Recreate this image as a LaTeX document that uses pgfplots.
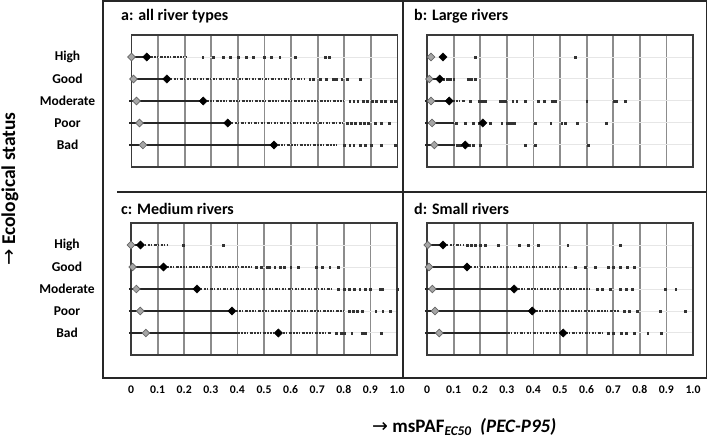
\documentclass[border=0pt]{standalone}
\usepackage{fontspec}
\setmainfont{Carlito}
\newfontfamily\dejavu{DejaVu Sans}
\usepackage{pgfplots}
\pgfplotsset{compat=1.18}
\definecolor{framec}{HTML}{3A3A3A}
\definecolor{gridc}{HTML}{8C8C8C}
\definecolor{rowc}{HTML}{E6E6E6}
\definecolor{dgrey}{HTML}{A6A6A6}
\pgfplotsset{
  panel/.style={
    scale only axis, width=266pt, height=132pt,
    xmin=0, xmax=1, ymin=0, ymax=6, y dir=reverse, clip=false,
    xtick={0,0.1,0.2,0.3,0.4,0.5,0.6,0.7,0.8,0.9,1},
    ytick={1,2,3,4,5},
    xticklabels={}, yticklabels={},
    major tick length=0pt,
    xmajorgrids, ymajorgrids,
    major x grid style={gridc, line width=1.8pt},
    major y grid style={rowc, line width=1pt},
    axis line style={framec, line width=1.6pt},
    xticklabel style={anchor=center, yshift=-35pt, font=\bfseries\fontsize{11.7}{12}\selectfont},
    yticklabel style={anchor=center, xshift=-64pt, font=\bfseries\fontsize{13.5}{14}\selectfont},
  },
  withx/.style={xticklabels={0,0.1,0.2,0.3,0.4,0.5,0.6,0.7,0.8,0.9,1.0}},
  withy/.style={yticklabels={High,Good,Moderate,Poor,Bad}},
  medline/.style={black!85, line width=2pt, unbounded coords=jump, no marks},
  dense/.style={black!80, line width=2pt, unbounded coords=jump, no marks,
     dash pattern=on 3pt off 1pt on 1.5pt off 1.5pt on 2pt off 1pt on 1pt off 2pt},
  dots/.style={only marks, mark=square*, mark size=0.9pt, black!80},
  greyd/.style={only marks, mark=square*, mark size=2.7pt, mark options={rotate=45, fill=dgrey, draw=black!60, line width=0.7pt}},
  blackd/.style={only marks, mark=square*, mark size=2.9pt, mark options={rotate=45, fill=black, draw=black}},
}
\begin{document}
\begin{tikzpicture}
\path[use as bounding box] (0,0) rectangle (708pt,443pt);
% frame of the four panels
\draw[black!85, line width=1.5pt] (103pt,65pt) rectangle (706.5pt,442pt);
\draw[black!85, line width=1.4pt] (403pt,65pt) -- (403pt,442pt);
\draw[black!85, line width=1.4pt] (117pt,251pt) -- (706.5pt,251pt);
% titles
\node[anchor=base west, font=\bfseries\fontsize{16}{18}\selectfont, inner sep=0pt] at (121pt,422pt) {a: all river types};
\node[anchor=base west, font=\bfseries\fontsize{16}{18}\selectfont, inner sep=0pt] at (414pt,422pt) {b: Large rivers};
\node[anchor=base west, font=\bfseries\fontsize{16}{18}\selectfont, inner sep=0pt] at (121pt,228pt) {c: Medium rivers};
\node[anchor=base west, font=\bfseries\fontsize{16}{18}\selectfont, inner sep=0pt] at (414pt,228pt) {d: Small rivers};
% axis titles
\node[rotate=90, anchor=base, font=\bfseries\fontsize{19.5}{21}\selectfont, inner sep=0pt] at (15pt,254pt) {{\dejavu\mdseries →} Ecological status};
\node[anchor=base west, font=\bfseries\fontsize{19}{21}\selectfont, inner sep=0pt] at (372pt,10pt) {{\dejavu\mdseries →} msPAF\textsubscript{\itshape EC50}~ \textit{(PEC-P95)}};

% ---------------- a: all river types
\begin{axis}[panel, withy, at={(131.5pt,276pt)}, anchor=south west]
\addplot[medline] coordinates {(0,1) (0.057,1) (nan,nan) (0,2) (0.133,2) (nan,nan) (-0.008,3) (0.27,3) (nan,nan) (-0.008,4) (0.362,4) (nan,nan) (-0.008,5) (0.536,5)};
\addplot[dense] coordinates {(0.06,1) (0.21,1) (nan,nan) (0.133,2) (0.65,2) (nan,nan) (0.27,3) (0.80,3) (nan,nan) (0.362,4) (0.80,4) (nan,nan) (0.536,5) (0.78,5)};
\addplot[dots] coordinates {
 (0.268,1) (0.306,1) (0.346,1) (0.371,1) (0.40,1) (0.431,1) (0.459,1) (0.50,1) (0.526,1) (0.557,1) (0.614,1) (0.727,1) (0.743,1)
 (0.67,2) (0.683,2) (0.71,2) (0.733,2) (0.758,2) (0.771,2) (0.79,2) (0.81,2) (0.859,2)
 (0.82,3) (0.835,3) (0.85,3) (0.87,3) (0.885,3) (0.905,3) (0.92,3) (0.94,3) (0.955,3) (0.975,3) (0.99,3)
 (0.81,4) (0.825,4) (0.84,4) (0.86,4) (0.875,4) (0.89,4) (0.915,4) (0.94,4) (0.97,4)
 (0.80,5) (0.82,5) (0.835,5) (0.86,5) (0.88,5) (0.90,5) (0.94,5) (0.99,5)};
\addplot[greyd] coordinates {(0,1) (0.0075,2) (0.019,3) (0.03,4) (0.043,5)};
\addplot[blackd] coordinates {(0.057,1) (0.133,2) (0.27,3) (0.362,4) (0.536,5)};
\end{axis}

% ---------------- b: Large rivers
\begin{axis}[panel, at={(427pt,276pt)}, anchor=south west]
\addplot[medline] coordinates {(0,2) (0.0475,2) (nan,nan) (-0.008,3) (0.084,3) (nan,nan) (-0.008,4) (0.10,4) (nan,nan) (-0.008,5) (0.106,5)};
\addplot[dense] coordinates {(0.084,3) (0.144,3)};
\addplot[dots] coordinates {
 (0.181,1) (0.558,1)
 (0.0625,2) (0.075,2) (0.0875,2) (0.10,2) (0.154,2) (0.165,2) (0.181,2)
 (0.1625,3) (0.1975,3) (0.206,3) (0.219,3) (0.275,3) (0.285,3) (0.295,3) (0.3225,3) (0.3375,3) (0.369,3) (0.419,3) (0.44,3) (0.469,3) (0.475,3) (0.481,3) (0.60,3) (0.704,3) (0.7125,3) (0.746,3)
 (0.11,4) (0.144,4) (0.175,4) (0.194,4) (0.2375,4) (0.281,4) (0.30,4) (0.3125,4) (0.325,4) (0.33,4) (0.406,4) (0.465,4) (0.506,4) (0.52,4) (0.5625,4) (0.565,4) (0.675,4)
 (0.115,5) (0.125,5) (0.16,5) (0.175,5) (0.20,5) (0.369,5) (0.406,5) (0.606,5)};
\addplot[greyd] coordinates {(0.015,1) (0.009,2) (0.015,3) (0.019,4) (0.0275,5)};
\addplot[blackd] coordinates {(0.06,1) (0.0475,2) (0.084,3) (0.21,4) (0.144,5)};
\end{axis}

% ---------------- c: Medium rivers
\begin{axis}[panel, withx, withy, at={(131pt,88pt)}, anchor=south west]
\addplot[medline] coordinates {(0,1) (0.036,1) (nan,nan) (0,2) (0.122,2) (nan,nan) (-0.008,3) (0.248,3) (nan,nan) (-0.008,4) (0.38,4) (nan,nan) (-0.008,5) (0.40,5)};
\addplot[dense] coordinates {(0.036,1) (0.14,1) (nan,nan) (0.122,2) (0.46,2) (nan,nan) (0.248,3) (0.76,3) (nan,nan) (0.38,4) (0.80,4) (nan,nan) (0.40,5) (0.75,5)};
\addplot[dots] coordinates {
 (0.195,1) (0.347,1)
 (0.47,2) (0.49,2) (0.51,2) (0.52,2) (0.54,2) (0.56,2) (0.575,2) (0.60,2) (0.63,2) (0.697,2) (0.72,2) (0.747,2) (0.78,2)
 (0.78,3) (0.80,3) (0.82,3) (0.84,3) (0.86,3) (0.88,3) (0.90,3) (0.935,3) (0.945,3) (1.0,3)
 (0.82,4) (0.835,4) (0.85,4) (0.87,4) (0.92,4) (0.946,4) (0.974,4)
 (0.77,5) (0.79,5) (0.80,5) (0.83,5) (0.87,5) (0.88,5) (0.94,5)};
\addplot[greyd] coordinates {(0,1) (0.006,2) (0.02,3) (0.035,4) (0.056,5)};
\addplot[blackd] coordinates {(0.036,1) (0.122,2) (0.248,3) (0.38,4) (0.554,5)};
\end{axis}

% ---------------- d: Small rivers
\begin{axis}[panel, withx, at={(427pt,88pt)}, anchor=south west]
\addplot[medline] coordinates {(-0.008,1) (0.06,1) (nan,nan) (0,2) (0.15,2) (nan,nan) (-0.008,3) (0.3275,3) (nan,nan) (-0.008,4) (0.396,4) (nan,nan) (-0.008,5) (0.30,5)};
\addplot[dense] coordinates {(0.06,1) (0.14,1) (nan,nan) (0.15,2) (0.525,2) (nan,nan) (0.3275,3) (0.62,3) (nan,nan) (0.396,4) (0.72,4) (nan,nan) (0.30,5) (0.66,5)};
\addplot[dots] coordinates {
 (0.15,1) (0.165,1) (0.18,1) (0.20,1) (0.219,1) (0.269,1) (0.3475,1) (0.381,1) (0.419,1) (0.529,1) (0.725,1)
 (0.556,2) (0.594,2) (0.631,2) (0.681,2) (0.70,2) (0.725,2) (0.753,2) (0.78,2)
 (0.64,3) (0.66,3) (0.69,3) (0.725,3) (0.75,3) (0.77,3) (0.896,3) (0.935,3)
 (0.74,4) (0.76,4) (0.79,4) (0.8775,4) (0.971,4)
 (0.68,5) (0.70,5) (0.73,5) (0.75,5) (0.78,5) (0.83,5) (0.88,5)};
\addplot[greyd] coordinates {(0.0025,1) (0.0075,2) (0.02,3) (0.03,4) (0.046,5)};
\addplot[blackd] coordinates {(0.06,1) (0.15,2) (0.3275,3) (0.396,4) (0.5125,5)};
\end{axis}
\end{tikzpicture}
\end{document}
